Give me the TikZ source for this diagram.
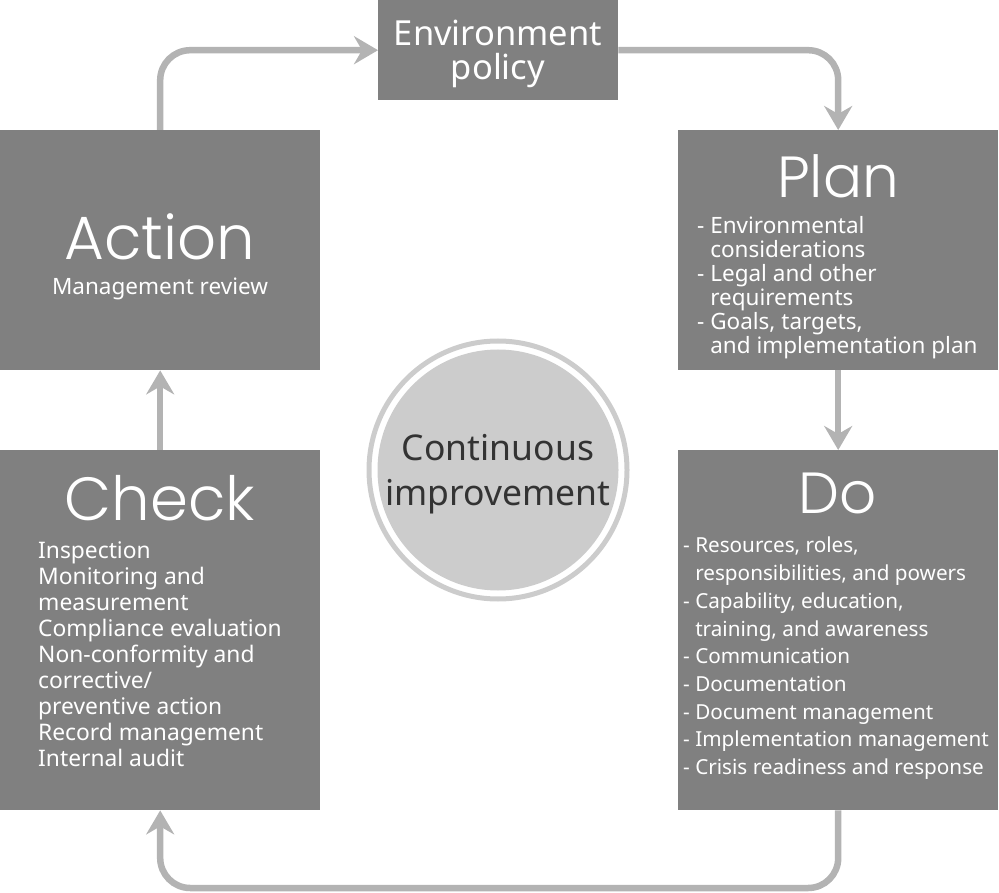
\documentclass[tikz,border=0pt]{standalone}
\usepackage{fontspec}
\setmainfont{Noto Sans}
\newfontfamily\headfont{Poppins Light}
\usetikzlibrary{arrows.meta}
\definecolor{boxgray}{HTML}{808080}
\definecolor{arrowgray}{HTML}{B3B3B3}
\definecolor{ringgray}{HTML}{CCCCCC}
\definecolor{textdark}{HTML}{333333}
\begin{document}
\begin{tikzpicture}[x=1pt, y=-1pt,
  box/.style={fill=boxgray, inner sep=0pt, anchor=north west},
  head/.style={white, font=\headfont\fontsize{58}{58}\selectfont, anchor=base, inner sep=0pt},
  items/.style={white, align=left, anchor=north west, inner sep=0pt, font=\fontsize{22.5}{24}\selectfont},
  flow/.style={arrowgray, line width=6.5pt, rounded corners=30pt, -{Stealth[length=24pt, width=28pt, inset=8pt]}}]
\useasboundingbox (0,0) rectangle (999,893);

% Boxes
\node[box, minimum width=240pt, minimum height=100pt] (policy) at (378,0) {};
\node[box, minimum width=320pt, minimum height=240pt] (plan) at (678,130) {};
\node[box, minimum width=320pt, minimum height=360pt] (do) at (678,450) {};
\node[box, minimum width=320pt, minimum height=360pt] (check) at (0,450) {};
\node[box, minimum width=320pt, minimum height=240pt] (action) at (0,130) {};
\node[white, align=center, inner sep=0pt, font=\fontsize{34.5}{34}\selectfont] (policytext) at (498,54) {Environment\\policy};

% Centre circle
\node[circle, draw=ringgray, line width=5pt, minimum size=258pt, inner sep=0pt] (ring) at (498,470) {};
\node[circle, fill=ringgray, minimum size=241pt, inner sep=0pt] (core) at (ring.center) {};
\node[align=center, inner sep=0pt, text=textdark, font=\fontsize{35.5}{45}\selectfont] (coretext) at (498,474) {Continuous\\improvement};

% Headings
\node[head] (planhead) at (838,198) {Plan};
\node[head] (dohead) at (838,513) {Do};
\node[head, font=\headfont\fontsize{61}{61}\selectfont] (checkhead) at (160,520) {Check};
\node[head, font=\headfont\fontsize{61}{61}\selectfont] (actionhead) at (160,260) {Action};

% Item lists
\node[items] (planlist) at (697,216) {- Environmental\\\phantom{- }considerations\\- Legal and other\\\phantom{- }requirements\\- Goals, targets,\\\phantom{- }and implementation plan};
\node[items, font=\fontsize{20.7}{27.7}\selectfont] (dolist) at (683,537) {- Resources, roles,\\\phantom{- }responsibilities, and powers\\- Capability, education,\\\phantom{- }training, and awareness\\- Communication\\- Documentation\\- Document management\\- Implementation management\\- Crisis readiness and response};
\node[items, font=\fontsize{22.8}{26}\selectfont] (checklist) at (38,541) {Inspection\\Monitoring and\\measurement\\Compliance evaluation\\Non-conformity and\\corrective/\\preventive action\\Record management\\Internal audit};
\node[white, anchor=base, inner sep=0pt, font=\fontsize{22.5}{24}\selectfont] (review) at (160,295) {Management review};

% Cycle arrows
\coordinate (bottom) at (498,888);
\draw[flow] (action.north) |- (policy.west);
\draw[flow] (policy.east) -| (plan.north);
\draw[flow] (plan.south) -- (do.north);
\draw[flow] (do.south) |- (bottom) -| (check.south);
\draw[flow] (check.north) -- (action.south);
\end{tikzpicture}
\end{document}
